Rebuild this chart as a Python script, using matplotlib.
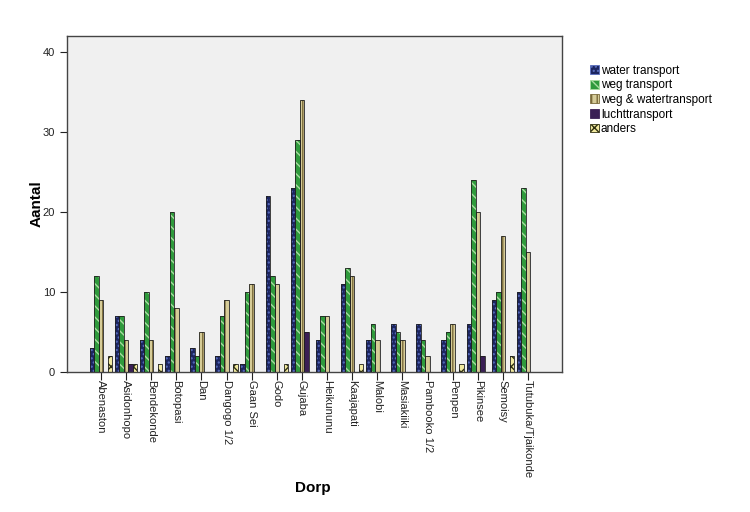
import matplotlib
matplotlib.use("Agg")
import matplotlib.pyplot as plt
from matplotlib.patches import Patch
import numpy as np

plt.rcParams['font.family'] = ['Liberation Sans', 'DejaVu Sans']

dorpen = ["Abenaston", "Asidonhopo", "Bendekonde", "Botopasi", "Dan", "Dangogo 1/2",
          "Gaan Sei", "Godo", "Gujaba", "Heikununu", "Kaajapati", "Malobi",
          "Masiakiiki", "Pambooko 1/2", "Penpen", "Pikinsee", "Semoisy",
          "Tutubuka/Tjaikonde"]
water_transport = [3, 7, 4, 2, 3, 2, 1, 22, 23, 4, 11, 4, 6, 6, 4, 6, 9, 10]
weg_transport = [12, 7, 10, 20, 2, 7, 10, 12, 29, 7, 13, 6, 5, 4, 5, 24, 10, 23]
weg_water_transport = [9, 4, 4, 8, 5, 9, 11, 11, 34, 7, 12, 4, 4, 2, 6, 20, 17, 15]
luchttransport = [0, 1, 0, 0, 0, 0, 0, 0, 5, 0, 0, 0, 0, 0, 0, 2, 0, 0]
anders = [2, 1, 1, 0, 0, 1, 0, 1, 0, 0, 1, 0, 0, 0, 1, 0, 2, 0]

series = [
    ("water transport", water_transport, "#1c2560", "#5a6fc0", "...."),
    ("weg transport", weg_transport, "#2f9a3c", "#a8dca0", "\\\\\\"),
    ("weg & watertransport", weg_water_transport, "#d6cc98", "#7a6a3a", "|||"),
    ("luchttransport", luchttransport, "#3a1f55", "#3a1f55", ""),
    ("anders", anders, "#f2eaa0", "#303010", "xxx"),
]

fig = plt.figure(figsize=(7.5, 5.12), dpi=100)
ax = fig.add_axes([67/750, 1-372/512, (562-67)/750, (372-36)/512])
ax.set_facecolor("#f0f0f0")

x = np.arange(len(dorpen))
w = 0.18
handles = []
for i, (name, vals, fc, hc, hatch) in enumerate(series):
    pos = x + (i - 2) * w
    v = np.array(vals, dtype=float)
    ax.bar(pos, v, w, color=fc, edgecolor=hc, hatch=hatch, linewidth=0, zorder=2)
    ax.bar(pos, v, w, fill=False, edgecolor="#202020", linewidth=0.6, zorder=3)
    handles.append(Patch(facecolor=fc, edgecolor=hc, hatch=hatch, linewidth=0.6, label=name))

ax.set_xlim(-1.35, len(dorpen) - 1 + 1.35)
ax.set_ylim(0, 42)
ax.set_yticks([0, 10, 20, 30, 40])
ax.set_xticks(x)
ax.set_xticklabels(dorpen, rotation=-90, fontsize=8, va='top', ha='center')
ax.tick_params(axis='y', labelsize=8, length=5, width=0.8, colors='#222222')
ax.tick_params(axis='x', length=6, width=0.8, pad=0, colors='#222222')
for s in ax.spines.values():
    s.set_color("#444444")
    s.set_linewidth(1.0)

ax.set_ylabel("Aantal", fontsize=11, fontweight='bold')
ax.yaxis.set_label_coords((44 - 67) / 495, 0.5)
fig.text(313/750, 1-488/512, "Dorp", fontsize=11, fontweight='bold', ha='center', va='center')

leg = fig.legend(handles=handles, loc='upper left', bbox_to_anchor=(585/750, 1-60/512),
                 frameon=False, fontsize=8.5, handlelength=0.75, handleheight=0.75,
                 handletextpad=0.2, labelspacing=0.22, borderaxespad=0)

fig.savefig("out.png", dpi=100, facecolor="white")
